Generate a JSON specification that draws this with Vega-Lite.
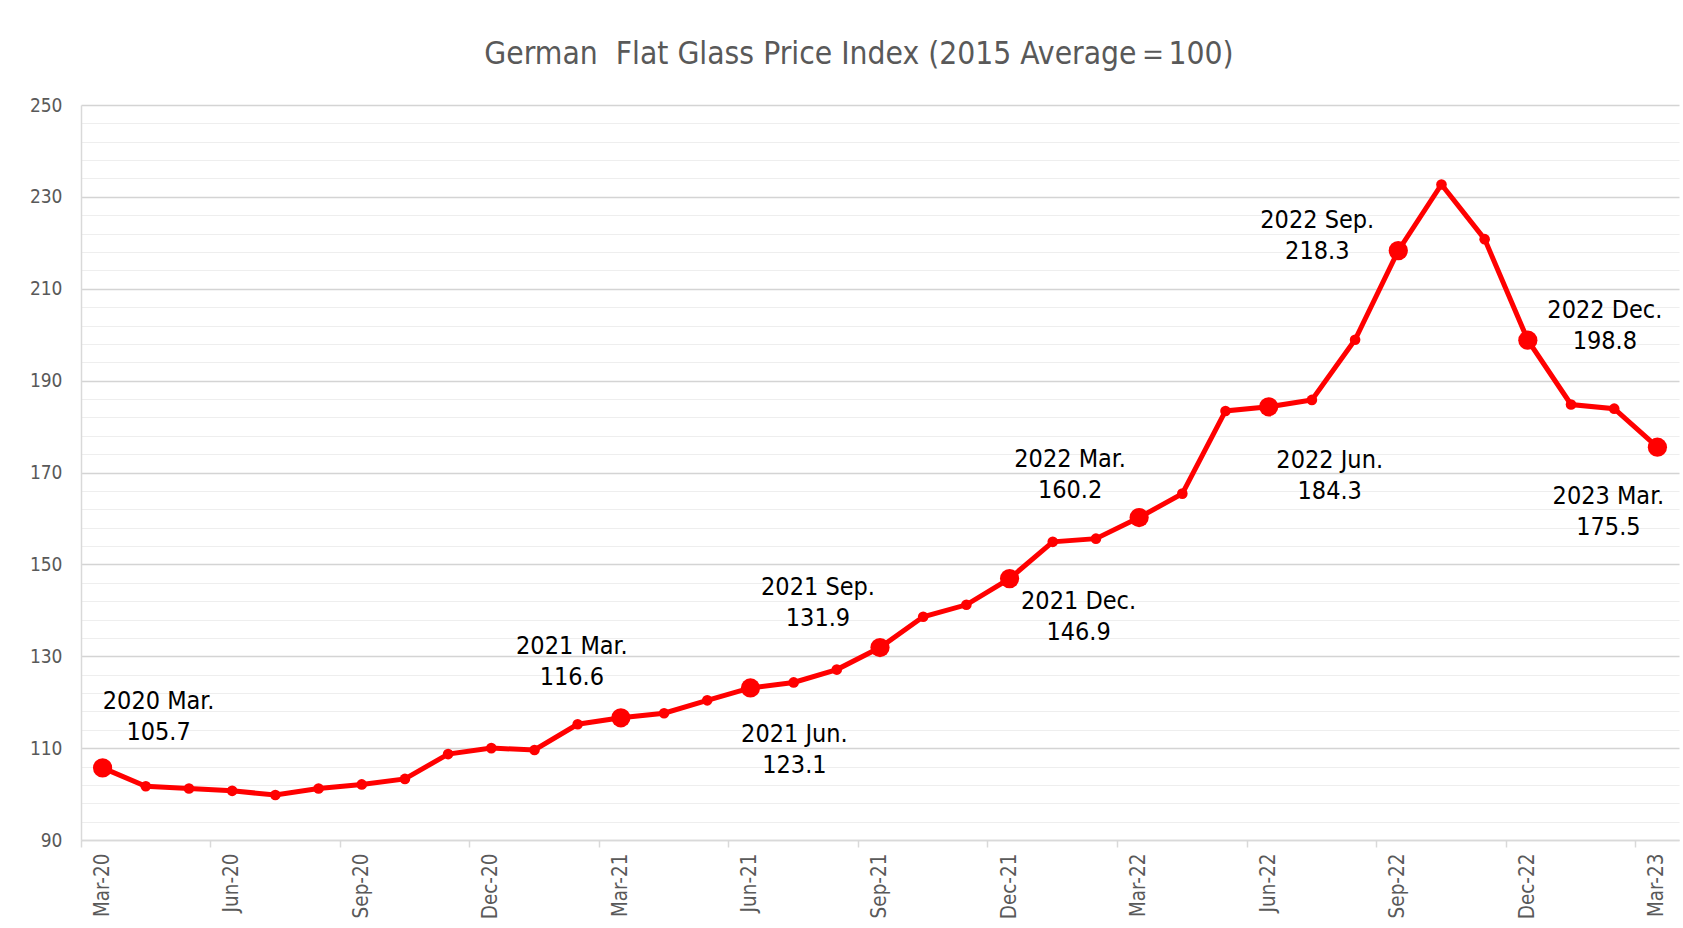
{
  "$schema": "https://vega.github.io/schema/vega-lite/v6.json",
  "width": 1598,
  "height": 735,
  "autosize": "none",
  "padding": {"left": 81, "top": 105, "right": 4, "bottom": 88},
  "background": "white",
  "config": {"view": {"stroke": null}},
  "title": {
    "text": "German\u00a0 Flat Glass Price Index (2015 Average＝100)",
    "font": "DejaVu Sans Condensed, Liberation Sans",
    "fontSize": 31.5,
    "fontWeight": "normal",
    "color": "#595959",
    "anchor": "middle",
    "offset": 26,
    "dx": -21
  },
  "data": {"values": [
    {"m": "Mar-20", "v": 105.7, "label": "2020 Mar.\n105.7"},
    {"m": "Apr-20", "v": 101.7, "label": ""},
    {"m": "May-20", "v": 101.2, "label": ""},
    {"m": "Jun-20", "v": 100.7, "label": ""},
    {"m": "Jul-20", "v": 99.8, "label": ""},
    {"m": "Aug-20", "v": 101.2, "label": ""},
    {"m": "Sep-20", "v": 102.1, "label": ""},
    {"m": "Oct-20", "v": 103.3, "label": ""},
    {"m": "Nov-20", "v": 108.7, "label": ""},
    {"m": "Dec-20", "v": 110.0, "label": ""},
    {"m": "Jan-21", "v": 109.6, "label": ""},
    {"m": "Feb-21", "v": 115.2, "label": ""},
    {"m": "Mar-21", "v": 116.6, "label": "2021 Mar.\n116.6"},
    {"m": "Apr-21", "v": 117.6, "label": ""},
    {"m": "May-21", "v": 120.4, "label": ""},
    {"m": "Jun-21", "v": 123.1, "label": "2021 Jun.\n123.1"},
    {"m": "Jul-21", "v": 124.3, "label": ""},
    {"m": "Aug-21", "v": 127.1, "label": ""},
    {"m": "Sep-21", "v": 131.9, "label": "2021 Sep.\n131.9"},
    {"m": "Oct-21", "v": 138.6, "label": ""},
    {"m": "Nov-21", "v": 141.2, "label": ""},
    {"m": "Dec-21", "v": 146.9, "label": "2021 Dec.\n146.9"},
    {"m": "Jan-22", "v": 154.9, "label": ""},
    {"m": "Feb-22", "v": 155.6, "label": ""},
    {"m": "Mar-22", "v": 160.2, "label": "2022 Mar.\n160.2"},
    {"m": "Apr-22", "v": 165.4, "label": ""},
    {"m": "May-22", "v": 183.4, "label": ""},
    {"m": "Jun-22", "v": 184.3, "label": "2022 Jun.\n184.3"},
    {"m": "Jul-22", "v": 185.8, "label": ""},
    {"m": "Aug-22", "v": 198.9, "label": ""},
    {"m": "Sep-22", "v": 218.3, "label": "2022 Sep.\n218.3"},
    {"m": "Oct-22", "v": 232.7, "label": ""},
    {"m": "Nov-22", "v": 220.8, "label": ""},
    {"m": "Dec-22", "v": 198.8, "label": "2022 Dec.\n198.8"},
    {"m": "Jan-23", "v": 184.8, "label": ""},
    {"m": "Feb-23", "v": 183.9, "label": ""},
    {"m": "Mar-23", "v": 175.5, "label": "2023 Mar.\n175.5"}
  ]},
  "encoding": {
    "x": {
      "field": "m", "type": "ordinal", "sort": null, "title": null,
      "scale": {"type": "band", "paddingInner": 0, "paddingOuter": 0},
      "axis": {
        "values": ["Mar-20","Jun-20","Sep-20","Dec-20","Mar-21","Jun-21","Sep-21","Dec-21","Mar-22","Jun-22","Sep-22","Dec-22","Mar-23"],
        "bandPosition": 0,
        "labelAngle": -90,
        "labelFont": "DejaVu Sans Condensed, Liberation Sans",
        "labelFontSize": 20.5,
        "labelColor": "#595959",
        "labelPadding": 6,
        "tickSize": 7,
        "tickColor": "#d9d9d9",
        "tickWidth": 1.5,
        "domainColor": "#d9d9d9",
        "domainWidth": 1.5,
        "grid": false
      }
    },
    "y": {
      "field": "v", "type": "quantitative", "title": null,
      "scale": {"domain": [90, 250], "nice": false, "zero": false},
      "axis": {
        "values": [90,94,98,102,106,110,114,118,122,126,130,134,138,142,146,150,154,158,162,166,170,174,178,182,186,190,194,198,202,206,210,214,218,222,226,230,234,238,242,246,250],
        "labelExpr": "(datum.value - 90) % 20 === 0 ? datum.label : ''",
        "labelFont": "DejaVu Sans Condensed, Liberation Sans",
        "labelFontSize": 19,
        "labelColor": "#595959",
        "labelPadding": 19,
        "ticks": false,
        "domainColor": "#d9d9d9",
        "domainWidth": 1.5,
        "grid": true,
        "gridColor": {"condition": {"test": "(datum.value - 90) % 20 === 0", "value": "#d4d4d4"}, "value": "#eeeeee"},
        "gridWidth": {"condition": {"test": "(datum.value - 90) % 20 === 0", "value": 1.5}, "value": 1.2}
      }
    }
  },
  "layer": [
    {"mark": {"type": "line", "color": "#ff0000", "strokeWidth": 5}},
    {"mark": {"type": "point", "filled": true, "color": "#ff0000", "opacity": 1, "size": 113}},
    {"transform": [{"filter": "datum.label !== ''"}], "mark": {"type": "point", "filled": true, "color": "#ff0000", "opacity": 1, "size": 370}},
    {"transform": [{"filter": "datum.m === 'Mar-20'"}], "mark": {"type": "text", "lineBreak": "\n", "fontSize": 25, "font": "DejaVu Sans Condensed, Liberation Sans", "color": "#000000", "lineHeight": 31, "align": "center", "baseline": "middle", "dx": 56, "dy": -67}, "encoding": {"text": {"field": "label"}}},
    {"transform": [{"filter": "datum.m === 'Mar-21'"}], "mark": {"type": "text", "lineBreak": "\n", "fontSize": 25, "font": "DejaVu Sans Condensed, Liberation Sans", "color": "#000000", "lineHeight": 31, "align": "center", "baseline": "middle", "dx": -49, "dy": -72}, "encoding": {"text": {"field": "label"}}},
    {"transform": [{"filter": "datum.m === 'Jun-21'"}], "mark": {"type": "text", "lineBreak": "\n", "fontSize": 25, "font": "DejaVu Sans Condensed, Liberation Sans", "color": "#000000", "lineHeight": 31, "align": "center", "baseline": "middle", "dx": 44, "dy": 46}, "encoding": {"text": {"field": "label"}}},
    {"transform": [{"filter": "datum.m === 'Sep-21'"}], "mark": {"type": "text", "lineBreak": "\n", "fontSize": 25, "font": "DejaVu Sans Condensed, Liberation Sans", "color": "#000000", "lineHeight": 31, "align": "center", "baseline": "middle", "dx": -62, "dy": -61}, "encoding": {"text": {"field": "label"}}},
    {"transform": [{"filter": "datum.m === 'Dec-21'"}], "mark": {"type": "text", "lineBreak": "\n", "fontSize": 25, "font": "DejaVu Sans Condensed, Liberation Sans", "color": "#000000", "lineHeight": 31, "align": "center", "baseline": "middle", "dx": 69, "dy": 22}, "encoding": {"text": {"field": "label"}}},
    {"transform": [{"filter": "datum.m === 'Mar-22'"}], "mark": {"type": "text", "lineBreak": "\n", "fontSize": 25, "font": "DejaVu Sans Condensed, Liberation Sans", "color": "#000000", "lineHeight": 31, "align": "center", "baseline": "middle", "dx": -69, "dy": -59}, "encoding": {"text": {"field": "label"}}},
    {"transform": [{"filter": "datum.m === 'Jun-22'"}], "mark": {"type": "text", "lineBreak": "\n", "fontSize": 25, "font": "DejaVu Sans Condensed, Liberation Sans", "color": "#000000", "lineHeight": 31, "align": "center", "baseline": "middle", "dx": 61, "dy": 53}, "encoding": {"text": {"field": "label"}}},
    {"transform": [{"filter": "datum.m === 'Sep-22'"}], "mark": {"type": "text", "lineBreak": "\n", "fontSize": 25, "font": "DejaVu Sans Condensed, Liberation Sans", "color": "#000000", "lineHeight": 31, "align": "center", "baseline": "middle", "dx": -81, "dy": -31}, "encoding": {"text": {"field": "label"}}},
    {"transform": [{"filter": "datum.m === 'Dec-22'"}], "mark": {"type": "text", "lineBreak": "\n", "fontSize": 25, "font": "DejaVu Sans Condensed, Liberation Sans", "color": "#000000", "lineHeight": 31, "align": "center", "baseline": "middle", "dx": 77, "dy": -30}, "encoding": {"text": {"field": "label"}}},
    {"transform": [{"filter": "datum.m === 'Mar-23'"}], "mark": {"type": "text", "lineBreak": "\n", "fontSize": 25, "font": "DejaVu Sans Condensed, Liberation Sans", "color": "#000000", "lineHeight": 31, "align": "center", "baseline": "middle", "dx": -49, "dy": 49}, "encoding": {"text": {"field": "label"}}}
  ]
}
